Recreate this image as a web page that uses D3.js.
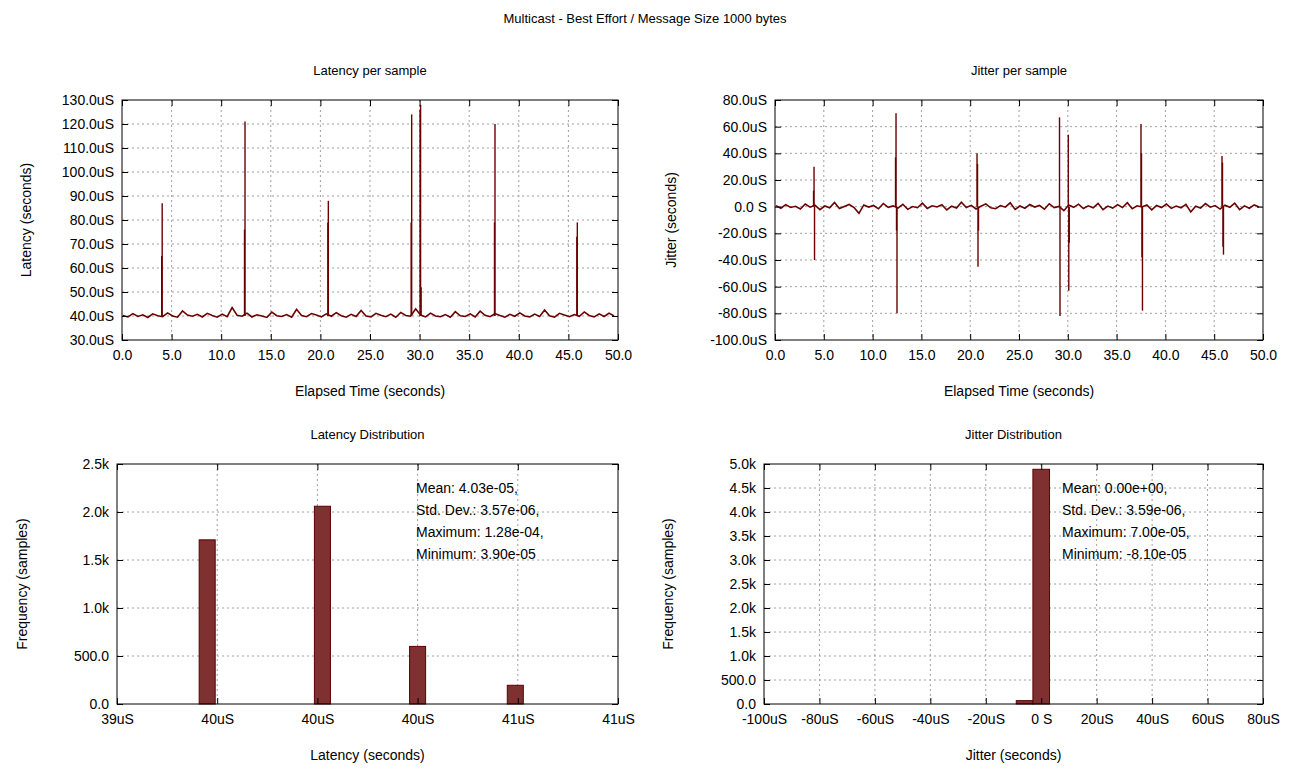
<!DOCTYPE html>
<html><head><meta charset="utf-8">
<script src="https://cdn.jsdelivr.net/npm/d3@7"></script>
<style>
body{margin:0;background:#fff;font-family:"Liberation Sans",Arial,sans-serif;}
text{font-family:"Liberation Sans",Arial,sans-serif;font-size:14px;fill:#000;}
.grid line{stroke:#a0a0a0;stroke-dasharray:2,3;}
</style></head><body>
<svg id="c" width="1290" height="770"></svg>
<script>
// ---- data (uS, seconds) ----
const latencyBase = [40.2,39.6,41.0,39.8,40.5,39.4,40.9,40.1,39.7,41.3,40.0,39.5,42.1,40.4,39.9,40.7,39.6,41.1,40.2,39.5,
  40.8,39.7,43.5,40.3,39.9,41.2,39.6,40.5,40.0,39.4,41.6,40.1,39.8,40.6,39.5,42.8,40.2,39.7,41.0,40.4,
  39.6,40.9,39.9,41.4,40.1,39.5,40.7,39.8,42.3,40.0,39.6,41.1,40.3,39.7,40.8,39.5,41.5,40.2,39.9,43.0,
  40.4,39.6,41.2,40.0,39.7,40.6,39.5,41.8,40.1,39.8,40.9,39.6,42.0,40.3,39.7,41.0,40.2,39.5,40.7,39.9,
  41.3,40.0,39.6,40.8,39.8,42.5,40.1,39.5,41.1,40.4,39.7,40.6,39.9,41.7,40.2,39.6,40.9,39.8,41.2,40.0];
const latencySpikes = [[4.0,65],[4.05,87],[12.35,76],[12.4,121],[20.75,79],[20.8,88],[29.15,79],[29.2,124],
  [30.05,126],[30.1,128],[30.15,52],[37.55,79],[37.6,120],[45.85,73],[45.9,79]];
const jitterBase = [0.8,-1.2,1.5,-0.6,0.3,-1.8,2.0,-0.4,1.1,-2.2,0.5,-0.9,3.1,-1.4,0.2,1.7,-0.7,-5.0,1.3,-0.3,
  0.9,-1.6,2.4,-0.5,0.6,-1.1,1.8,-2.0,0.1,-0.8,2.6,-1.3,0.7,-0.2,1.4,-2.5,0.4,-1.0,3.4,-0.6,
  1.0,-1.7,0.3,2.1,-0.9,-1.5,0.8,-0.4,2.9,-2.1,0.5,-1.2,1.6,-0.3,0.9,-1.9,2.2,-0.7,0.2,-3.0,
  1.2,-0.5,1.9,-1.4,0.6,-0.8,2.5,-2.3,0.4,-1.1,1.5,-0.6,3.0,-1.6,0.7,-0.2,1.3,-2.4,0.9,-0.7,
  2.0,-1.3,0.5,-0.9,1.7,-4.0,0.3,-1.0,2.3,-0.4,0.8,-1.8,1.1,-0.5,2.7,-2.2,0.6,-1.2,1.4,-0.3];
const jitterSpikes = [[3.95,12],[4.0,30],[4.05,-40],[12.35,37],[12.4,70],[12.45,-18],[12.5,-80],
  [20.7,40],[20.75,32],[20.8,-45],[20.85,-18],[29.15,67],[29.2,-82],[30.05,54],[30.1,-63],[30.15,-27],
  [37.5,62],[37.55,40],[37.6,-38],[37.65,-78],[45.8,38],[45.85,33],[45.9,-30],[45.95,-36]];
const latHistX = [39.56,40.02,40.40,40.79];     // bin centres (uS)
const latHistY = [1710,2060,600,195];
const jitHistX = [-6,0];                       // bin centres (uS)
const jitHistY = [70,4890];
const latStats = ["Mean: 4.03e-05,","Std. Dev.: 3.57e-06,","Maximum: 1.28e-04,","Minimum: 3.90e-05"];
const jitStats = ["Mean: 0.00e+00,","Std. Dev.: 3.59e-06,","Maximum: 7.00e-05,","Minimum: -8.10e-05"];
const lineColor = "#6b0000";

// baseline noise as a path, spikes as vertical segments from the baseline level
function series(base){
  return base.map((v,i)=>[i*0.5+0.1, v]);
}

const svg = d3.select("#c");
svg.append("text").attr("x",645).attr("y",23).attr("text-anchor","middle").style("font-size","13px")
  .text("Multicast - Best Effort / Message Size 1000 bytes");

function panel(o){
  const g = svg.append("g");
  const x = d3.scaleLinear().domain(o.xd).range([o.x0,o.x1]);
  const y = d3.scaleLinear().domain(o.yd).range([o.y1,o.y0]);
  const xt = o.xticks, yt = o.yticks;
  const grid = g.append("g").attr("class","grid");
  grid.selectAll(".gx").data(xt.slice(1,-1)).join("line").attr("x1",d=>x(d)).attr("x2",d=>x(d)).attr("y1",o.y0).attr("y2",o.y1);
  grid.selectAll(".gy").data(yt.slice(1,-1)).join("line").attr("y1",d=>y(d)).attr("y2",d=>y(d)).attr("x1",o.x0).attr("x2",o.x1);
  o.draw(g,x,y);
  const ax = d3.axisBottom(x).tickValues(xt).tickFormat(o.xf).tickSizeInner(-6).tickSizeOuter(0).tickPadding(10);
  g.append("g").attr("transform",`translate(0,${o.y1})`).call(ax);
  g.append("g").attr("transform",`translate(0,${o.y0})`).call(d3.axisTop(x).tickValues(xt).tickFormat("").tickSizeInner(-6).tickSizeOuter(0));
  g.append("g").attr("transform",`translate(${o.x0},0)`).call(d3.axisLeft(y).tickValues(yt).tickFormat(o.yf).tickSizeInner(-6).tickSizeOuter(0).tickPadding(8));
  g.append("g").attr("transform",`translate(${o.x1},0)`).call(d3.axisRight(y).tickValues(yt).tickFormat("").tickSizeInner(-6).tickSizeOuter(0));
  g.selectAll(".domain").remove();
  g.selectAll(".tick line").attr("stroke","#000");
  g.selectAll(".tick text").style("font-size","14px").attr("fill","#000");
  g.append("rect").attr("x",o.x0).attr("y",o.y0).attr("width",o.x1-o.x0).attr("height",o.y1-o.y0)
    .attr("fill","none").attr("stroke","#000").attr("stroke-width",1);
  g.append("text").attr("x",(o.x0+o.x1)/2).attr("y",o.y0-25).attr("text-anchor","middle").style("font-size","13px").text(o.title);
  g.append("text").attr("x",(o.x0+o.x1)/2).attr("y",o.y1+56).attr("text-anchor","middle").text(o.xlab);
  g.append("text").attr("transform",`translate(${o.ylx},${(o.y0+o.y1)/2}) rotate(-90)`).attr("text-anchor","middle").text(o.ylab);
  if(o.stats) o.stats.forEach((s,i)=>g.append("text").attr("x",o.sx).attr("y",o.y0+29+i*22).text(s));
}

const uS = d=> d.toFixed(1)+"uS";
function lineDraw(base, spikes, level){
  return (g,x,y)=>{
    g.append("path").datum(series(base)).attr("fill","none").attr("stroke",lineColor).attr("stroke-width",1.6)
      .attr("d",d3.line().x(d=>x(d[0])).y(d=>y(d[1])));
    g.selectAll(".spike").data(spikes).join("line")
      .attr("x1",d=>x(d[0])).attr("x2",d=>x(d[0])).attr("y1",y(level)).attr("y2",d=>y(d[1]))
      .attr("stroke",lineColor).attr("stroke-width",1.4);
  };
}
function barDraw(xs,ys,w){
  return (g,x,y)=>g.selectAll(".bar").data(xs).join("rect")
    .attr("x",(d)=>x(d-w/2)).attr("width",d=>x(d+w/2)-x(d-w/2))
    .attr("y",(d,i)=>y(ys[i])).attr("height",(d,i)=>y(0)-y(ys[i]))
    .attr("fill","#7f3030").attr("stroke","#5a0000").attr("stroke-width",1);
}
const kf = d=> d===0 ? "0.0" : (d<1000 ? d.toFixed(1) : (d/1000).toFixed(1)+"k");

panel({x0:122,x1:618,y0:100,y1:340,xd:[0,50],yd:[30,130],xticks:d3.range(0,51,5),yticks:d3.range(30,131,10),
  xf:d=>d.toFixed(1),yf:uS,title:"Latency per sample",xlab:"Elapsed Time (seconds)",ylab:"Latency (seconds)",ylx:31,
  draw:lineDraw(latencyBase,latencySpikes,40)});
panel({x0:775,x1:1263,y0:100,y1:340,xd:[0,50],yd:[-100,80],xticks:d3.range(0,51,5),yticks:d3.range(-100,81,20),
  xf:d=>d.toFixed(1),yf:d=>d===0?"0.0 S":uS(d),title:"Jitter per sample",xlab:"Elapsed Time (seconds)",ylab:"Jitter (seconds)",ylx:676,
  draw:lineDraw(jitterBase,jitterSpikes,0)});
panel({x0:117,x1:618,y0:464,y1:704,xd:[39.2,41.2],yd:[0,2500],xticks:[39.2,39.6,40.0,40.4,40.8,41.2],yticks:d3.range(0,2501,500),
  xf:d=>d.toFixed(0)+"uS",yf:kf,title:"Latency Distribution",xlab:"Latency (seconds)",ylab:"Frequency (samples)",ylx:27,
  stats:latStats,sx:416,draw:barDraw(latHistX,latHistY,0.064)});
panel({x0:764,x1:1263,y0:464,y1:704,xd:[-100,80],yd:[0,5000],xticks:d3.range(-100,81,20),yticks:d3.range(0,5001,500),
  xf:d=>d===0?"0 S":d+"uS",yf:kf,title:"Jitter Distribution",xlab:"Jitter (seconds)",ylab:"Frequency (samples)",ylx:673,
  stats:jitStats,sx:1062,draw:barDraw(jitHistX,jitHistY,6)});
</script></body></html>
